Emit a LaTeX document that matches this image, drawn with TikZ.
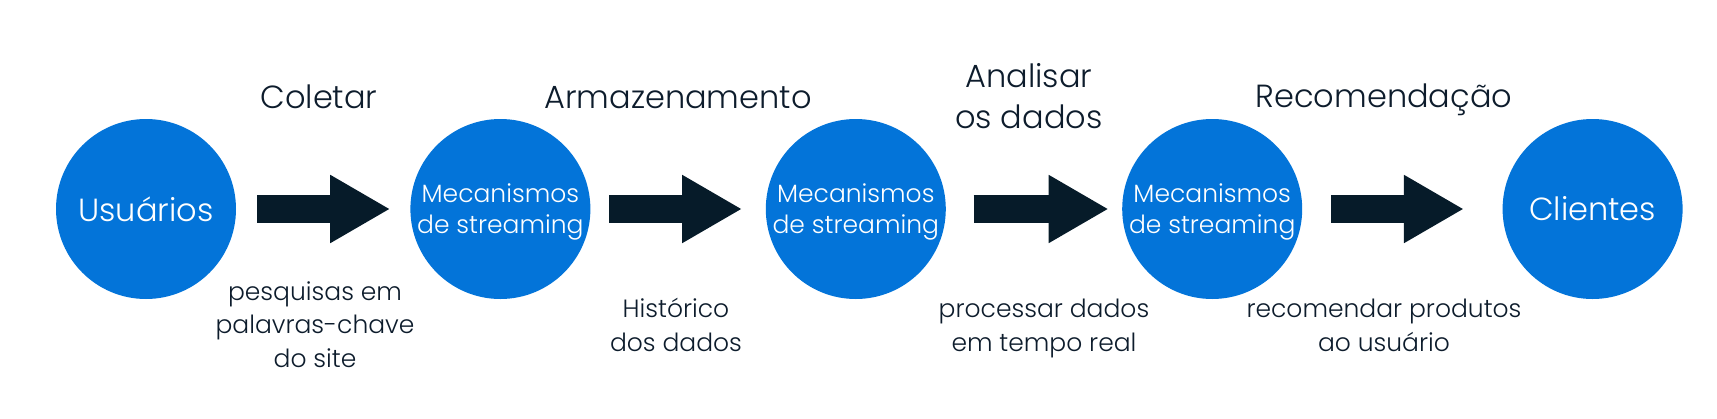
\documentclass[tikz,border=0pt]{standalone}
\usepackage{fontspec}
\setmainfont{Poppins}[UprightFont=*-Light]
\usepackage{xcolor}
\usepackage{tikz}
\usetikzlibrary{arrows.meta,positioning}

\definecolor{stagefill}{HTML}{0374D9}
\definecolor{arrowfill}{HTML}{061B29}
\definecolor{labeltext}{HTML}{0D1C2C}

\begin{document}
\begin{tikzpicture}[
    x=1pt, y=-1pt,
    stage/.style={circle, fill=stagefill, minimum size=180pt, inner sep=-40pt, align=center, text=white},
    bigtext/.style={font=\fontsize{32}{41}\selectfont},
    smalltext/.style={font=\fontsize{25}{33.3}\selectfont},
    innertext/.style={font=\fontsize{25}{31}\selectfont, text depth=0pt},
    toplabel/.style={bigtext, text=labeltext, align=center, inner sep=0pt, anchor=base},
    notelabel/.style={smalltext, text=labeltext, align=center, inner sep=0pt, anchor=base},
    flow/.style={-{Triangle[length=59pt, width=68pt, line width=2pt]}, line width=28pt, draw=arrowfill},
]
    \useasboundingbox (0,0) rectangle (1717,418);

    % Stages
    \node[stage, bigtext] (usr) at (146,209) {Usuários};
    \node[stage, innertext, right=174pt of usr] (mec1) {Mecanismos\\de streaming};
    \node[stage, innertext, right=175pt of mec1] (mec2) {Mecanismos\\de streaming};
    \node[stage, innertext, right=176pt of mec2] (mec3) {Mecanismos\\de streaming};
    \node[stage, bigtext, right=200pt of mec3] (cli) {Clientes};

    % Arrows
    \draw[flow, shorten <=21pt, shorten >=21pt] (usr) -- (mec1);
    \draw[flow, shorten <=18.5pt, shorten >=24.5pt] (mec1) -- (mec2);
    \draw[flow, shorten <=27.7pt, shorten >=14.4pt] (mec2) -- (mec3);
    \draw[flow, shorten <=29pt, shorten >=39.5pt] (mec3) -- (cli);

    % Labels above (base = last line)
    \node[toplabel] (coletar) at (319,108) {Coletar};
    \node[toplabel] (armaz) at (678,108) {Armazenamento};
    \node[toplabel] (analisar) at (1029,128) {Analisar\\os dados};
    \node[toplabel] (recom) at (1384,107) {Recomendação};

    % Labels below
    \node[notelabel] (pesq) at (315,367) {pesquisas em\\palavras-chave\\do site};
    \node[notelabel] (hist) at (676,351) {Histórico\\dos dados};
    \node[notelabel] (proc) at (1044,351) {processar dados\\em tempo real};
    \node[notelabel] (recprod) at (1384,351) {recomendar produtos\\ao usuário};
\end{tikzpicture}
\end{document}
